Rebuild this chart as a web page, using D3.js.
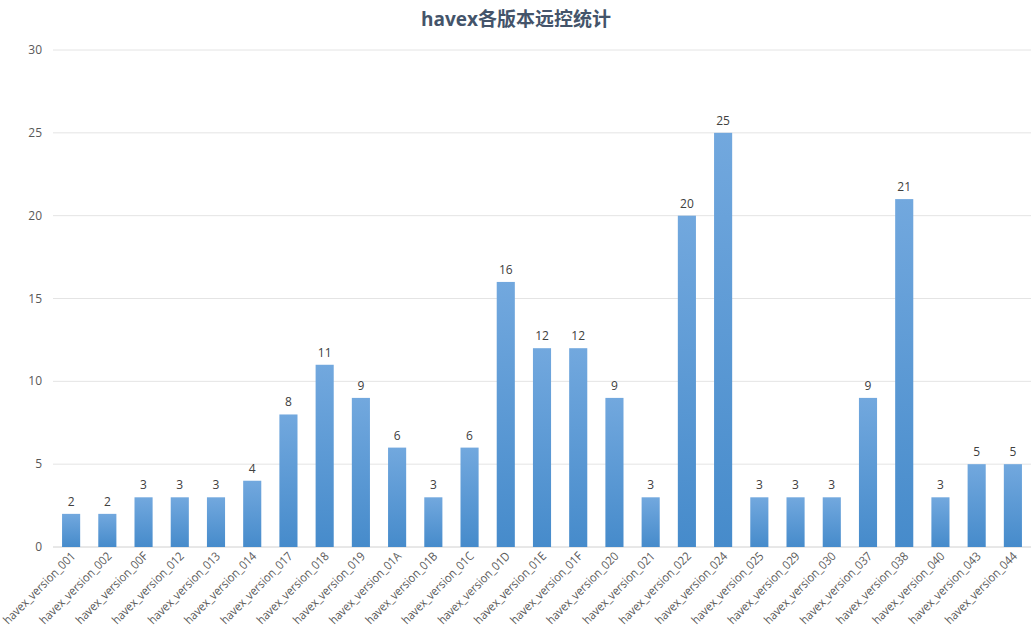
<!DOCTYPE html>
<html><head><meta charset="utf-8">
<script src="https://cdn.jsdelivr.net/npm/d3@7"></script>
<style>body{margin:0;background:#fff}text{font-family:"Segoe UI","Open Sans","Noto Sans CJK SC",sans-serif}</style>
</head><body><svg width="1032" height="641"></svg>
<script>
var categories = ["001","002","00F","012","013","014","017","018","019","01A","01B","01C","01D","01E","01F","020","021","022","024","025","029","030","037","038","040","043","044"].map(function(s){return "havex_version_" + s;});
var values = [2,2,3,3,3,4,8,11,9,6,3,6,16,12,12,9,3,20,25,3,3,3,9,21,3,5,5];
var yTicks = [0,5,10,15,20,25,30];

var svg = d3.select("svg");
var defs = svg.append("defs");
var g = defs.append("linearGradient").attr("id","bg").attr("x1",0).attr("y1",0).attr("x2",0).attr("y2",1);
g.append("stop").attr("offset","0%").attr("stop-color","#72a8de");
g.append("stop").attr("offset","100%").attr("stop-color","#468bcb");

var x = d3.scaleBand().domain(categories).range([53, 1031]).paddingInner(0.5).paddingOuter(0.25);
var y = d3.scaleLinear().domain([0,30]).range([547,50]);

svg.append("text").attr("x",516).attr("y",26).attr("text-anchor","middle")
  .style("font-size","19px").style("font-weight","bold").style("fill","#44546a").text("havex各版本远控统计");

svg.selectAll(".grid").data(yTicks).enter().append("line")
  .attr("x1",53).attr("x2",1031).attr("y1",function(d){return y(d);}).attr("y2",function(d){return y(d);})
  .style("stroke",function(d){return d===0?"#d0d0d0":"#e4e4e4";}).style("stroke-width",1);
svg.selectAll(".yl").data(yTicks).enter().append("text")
  .attr("x",42).attr("y",function(d){return y(d)+4;}).attr("text-anchor","end")
  .style("font-size","12px").style("fill","#595959").text(function(d){return d;});

svg.selectAll(".bar").data(values).enter().append("rect")
  .attr("x",function(d,i){return x(categories[i]);}).attr("width",x.bandwidth())
  .attr("y",function(d){return y(d);}).attr("height",function(d){return y(0)-y(d);})
  .style("fill","url(#bg)");
svg.selectAll(".vl").data(values).enter().append("text")
  .attr("x",function(d,i){return x(categories[i])+x.bandwidth()/2;}).attr("y",function(d){return y(d)-8;})
  .attr("text-anchor","middle").style("font-size","12px").style("fill","#404040").text(function(d){return d;});

svg.selectAll(".xl").data(categories).enter().append("text")
  .attr("transform",function(d){return "translate("+(x(d)+x.bandwidth()/2+5)+",557) rotate(-45)";})
  .attr("text-anchor","end").attr("textLength",96).attr("lengthAdjust","spacingAndGlyphs")
  .style("font-size","12px").style("fill","#595959").text(function(d){return d;});
</script></body></html>
